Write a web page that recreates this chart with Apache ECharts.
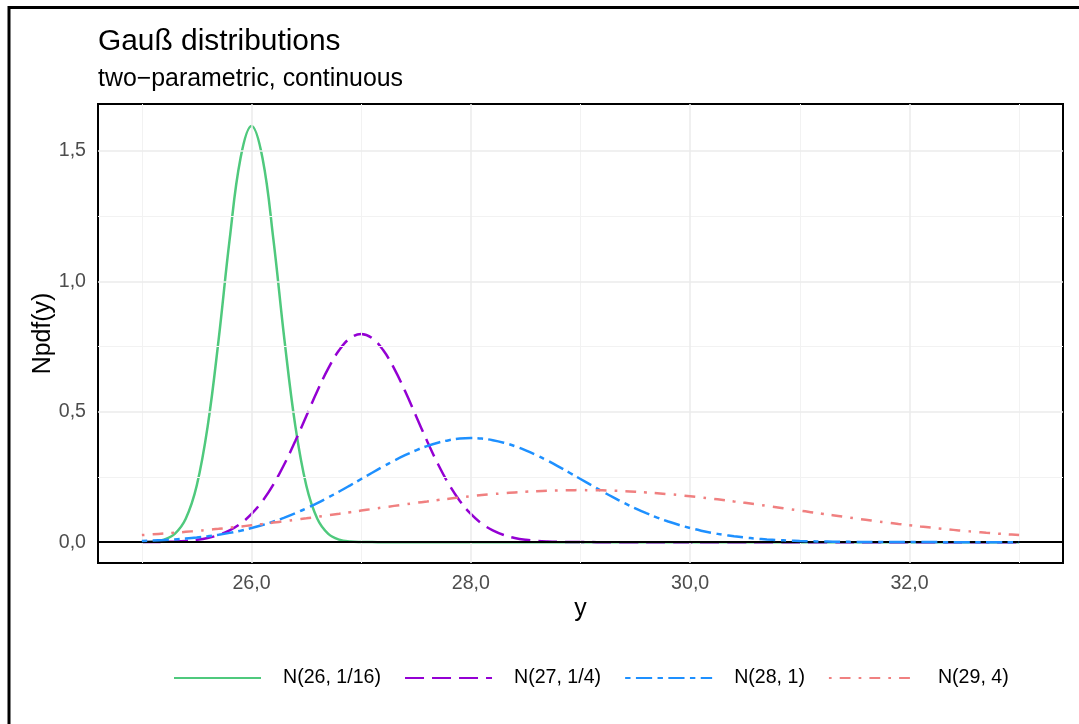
<!DOCTYPE html>
<html>
<head>
<meta charset="utf-8">
<script src="https://cdn.jsdelivr.net/npm/echarts@6/dist/echarts.min.js"></script>
<style>
  html, body { margin: 0; padding: 0; background: #fff; }
  #chart { width: 1079px; height: 724px; }
</style>
</head>
<body>
<div id="chart"></div>
<script>
// ---- data ----
const titleText = 'Gauß distributions';
const subtitleText = 'two\u2212parametric, continuous';
const seriesNames = ['N(26, 1/16)', 'N(27, 1/4)', 'N(28, 1)', 'N(29, 4)'];

const xValues = [
  25.0, 25.1, 25.2, 25.3, 25.4, 25.5, 25.6, 25.7, 25.8, 25.9,
  26.0, 26.1, 26.2, 26.3, 26.4, 26.5, 26.6, 26.7, 26.8, 26.9,
  27.0, 27.1, 27.2, 27.3, 27.4, 27.5, 27.6, 27.7, 27.8, 27.9,
  28.0, 28.1, 28.2, 28.3, 28.4, 28.5, 28.6, 28.7, 28.8, 28.9,
  29.0, 29.1, 29.2, 29.3, 29.4, 29.5, 29.6, 29.7, 29.8, 29.9,
  30.0, 30.1, 30.2, 30.3, 30.4, 30.5, 30.6, 30.7, 30.8, 30.9,
  31.0, 31.1, 31.2, 31.3, 31.4, 31.5, 31.6, 31.7, 31.8, 31.9,
  32.0, 32.1, 32.2, 32.3, 32.4, 32.5, 32.6, 32.7, 32.8, 32.9,
  33.0
];

const densGreen = [
  0.0005, 0.0024, 0.0095, 0.0317, 0.0896, 0.2160, 0.4437, 0.7768, 1.1587, 1.4731,
  1.5958, 1.4731, 1.1587, 0.7768, 0.4437, 0.2160, 0.0896, 0.0317, 0.0095, 0.0024,
  0.0005, 0.0001, 0, 0, 0, 0, 0, 0, 0, 0,
  0, 0, 0, 0, 0, 0, 0, 0, 0, 0,
  0, 0, 0, 0, 0, 0, 0, 0, 0, 0,
  0, 0, 0, 0, 0, 0, 0, 0, 0, 0,
  0, 0, 0, 0, 0, 0, 0, 0, 0, 0,
  0, 0, 0, 0, 0, 0, 0, 0, 0, 0,
  0
];

const densPurple = [
  0.0003, 0.0006, 0.0012, 0.0025, 0.0048, 0.0089, 0.0158, 0.0272, 0.0448, 0.0709,
  0.1080, 0.1579, 0.2218, 0.2995, 0.3884, 0.4839, 0.5794, 0.6665, 0.7365, 0.7821,
  0.7979, 0.7821, 0.7365, 0.6665, 0.5794, 0.4839, 0.3884, 0.2995, 0.2218, 0.1579,
  0.1080, 0.0709, 0.0448, 0.0272, 0.0158, 0.0089, 0.0048, 0.0025, 0.0012, 0.0006,
  0.0003, 0.0001, 0, 0, 0, 0, 0, 0, 0, 0,
  0, 0, 0, 0, 0, 0, 0, 0, 0, 0,
  0, 0, 0, 0, 0, 0, 0, 0, 0, 0,
  0, 0, 0, 0, 0, 0, 0, 0, 0, 0,
  0
];

const densBlue = [
  0.0044, 0.0060, 0.0079, 0.0104, 0.0136, 0.0175, 0.0224, 0.0283, 0.0355, 0.0440,
  0.0540, 0.0656, 0.0790, 0.0940, 0.1109, 0.1295, 0.1497, 0.1714, 0.1942, 0.2179,
  0.2420, 0.2661, 0.2897, 0.3123, 0.3332, 0.3521, 0.3683, 0.3814, 0.3910, 0.3970,
  0.3989, 0.3970, 0.3910, 0.3814, 0.3683, 0.3521, 0.3332, 0.3123, 0.2897, 0.2661,
  0.2420, 0.2179, 0.1942, 0.1714, 0.1497, 0.1295, 0.1109, 0.0940, 0.0790, 0.0656,
  0.0540, 0.0440, 0.0355, 0.0283, 0.0224, 0.0175, 0.0136, 0.0104, 0.0079, 0.0060,
  0.0044, 0.0033, 0.0024, 0.0017, 0.0012, 0.0009, 0.0006, 0.0004, 0.0003, 0.0002,
  0.0001, 0.0001, 0.0001, 0, 0, 0, 0, 0, 0, 0,
  0
];

const densPink = [
  0.0270, 0.0298, 0.0328, 0.0360, 0.0395, 0.0431, 0.0470, 0.0511, 0.0555, 0.0600,
  0.0648, 0.0697, 0.0749, 0.0802, 0.0857, 0.0913, 0.0971, 0.1030, 0.1089, 0.1150,
  0.1210, 0.1270, 0.1330, 0.1390, 0.1448, 0.1506, 0.1561, 0.1615, 0.1666, 0.1715,
  0.1760, 0.1803, 0.1841, 0.1876, 0.1907, 0.1933, 0.1955, 0.1972, 0.1985, 0.1992,
  0.1995, 0.1992, 0.1985, 0.1972, 0.1955, 0.1933, 0.1907, 0.1876, 0.1841, 0.1803,
  0.1760, 0.1715, 0.1666, 0.1615, 0.1561, 0.1506, 0.1448, 0.1390, 0.1330, 0.1270,
  0.1210, 0.1150, 0.1089, 0.1030, 0.0971, 0.0913, 0.0857, 0.0802, 0.0749, 0.0697,
  0.0648, 0.0600, 0.0555, 0.0511, 0.0470, 0.0431, 0.0395, 0.0360, 0.0328, 0.0298,
  0.0270
];

const xTicks = [26, 28, 30, 32];
const xMinor = [25, 27, 29, 31, 33];
const yTicks = [0, 0.5, 1, 1.5];
const yMinor = [0.25, 0.75, 1.25];

// ---- chart ----
const FONT = '"Liberation Sans", Arial, Helvetica, sans-serif';
const fmt = v => Number(v).toFixed(1).replace('.', ',');

const majorStyle = { color: '#EBEBEB', width: 1.5, type: 'solid' };
const minorStyle = { color: '#F2F2F2', width: 1, type: 'solid' };

const gridLines = []
  .concat(xMinor.map(v => ({ xAxis: v, lineStyle: minorStyle })))
  .concat(yMinor.map(v => ({ yAxis: v, lineStyle: minorStyle })))
  .concat(xTicks.map(v => ({ xAxis: v, lineStyle: majorStyle })))
  .concat(yTicks.map(v => ({ yAxis: v, lineStyle: majorStyle })));

const curves = [
  { name: seriesNames[0], vals: densGreen,  color: '#4FC97D', dash: 'solid' },
  { name: seriesNames[1], vals: densPurple, color: '#9400D3', dash: [19, 8] },
  { name: seriesNames[2], vals: densBlue,   color: '#1E90FF', dash: [5.4, 5.4, 16.2, 5.4] },
  { name: seriesNames[3], vals: densPink,   color: '#F08080', dash: [2.7, 8.1, 10.8, 8.1] }
];

const series = [
  {
    name: '__grid', type: 'line', data: [], symbol: 'none', silent: true, z: 1,
    markLine: { silent: true, symbol: 'none', label: { show: false }, animation: false, data: gridLines }
  },
  {
    name: '__zero', type: 'line', data: [], symbol: 'none', silent: true, z: 2,
    markLine: { silent: true, symbol: 'none', label: { show: false }, animation: false,
      data: [{ yAxis: 0, lineStyle: { color: '#000', width: 2, type: 'solid' } }] }
  }
].concat(curves.map((c, k) => ({
  name: c.name,
  type: 'line',
  data: xValues.map((x, i) => [x, c.vals[i]]),
  symbol: 'none',
  showSymbol: false,
  smooth: 0.4,
  z: 3 + k,
  lineStyle: { color: c.color, width: 2.5, type: c.dash, cap: 'butt' },
  itemStyle: { color: c.color }
})));

const chart = echarts.init(document.getElementById('chart'), null, { renderer: 'canvas' });
chart.setOption({
  animation: false,
  backgroundColor: '#fff',
  textStyle: { fontFamily: FONT },
  title: [
    { text: titleText, left: 98, top: 26.5, padding: 0,
      textStyle: { fontFamily: FONT, fontSize: 29.9, fontWeight: 'normal', color: '#000', lineHeight: 30 } },
    { text: subtitleText, left: 98, top: 66.5, padding: 0,
      textStyle: { fontFamily: FONT, fontSize: 24.9, fontWeight: 'normal', color: '#000', lineHeight: 25 } }
  ],
  grid: { left: 98, right: 16, top: 104, bottom: 161, show: true, borderColor: '#000', borderWidth: 2, backgroundColor: 'transparent', containLabel: false },
  xAxis: {
    type: 'value', min: 24.6, max: 33.4,
    name: 'y', nameLocation: 'middle', nameGap: 34, nameMoveOverlap: false,
    nameTextStyle: { fontFamily: FONT, fontSize: 24.9, color: '#000' },
    axisLine: { show: false }, axisTick: { show: false }, splitLine: { show: false },
    axisLabel: { customValues: xTicks, formatter: fmt, color: '#4D4D4D', fontSize: 19.6, margin: 11, fontFamily: FONT }
  },
  yAxis: {
    type: 'value', min: -0.08, max: 1.68,
    name: 'Npdf(y)', nameLocation: 'middle', nameGap: 42, nameRotate: 90, nameMoveOverlap: false,
    nameTextStyle: { fontFamily: FONT, fontSize: 24.9, color: '#000' },
    axisLine: { show: false }, axisTick: { show: false }, splitLine: { show: false },
    axisLabel: { customValues: yTicks, formatter: fmt, color: '#4D4D4D', fontSize: 19.6, margin: 12, fontFamily: FONT }
  },
  legend: {
    data: seriesNames,
    left: 173, top: 668,
    orient: 'horizontal',
    itemWidth: 87, itemHeight: 20, itemGap: 23,
    padding: 0,
    selectedMode: false,
    itemStyle: { opacity: 0 },
    textStyle: { fontFamily: FONT, fontSize: 19.6, color: '#000', padding: [0, 0, 0, 17] }
  },
  graphic: [
    { type: 'polyline', silent: true, z: 100,
      shape: { points: [[9, 724], [9, 7.5], [1079, 7.5]] },
      style: { stroke: '#000', lineWidth: 3, fill: null } }
  ],
  series: series
});
</script>
</body>
</html>
